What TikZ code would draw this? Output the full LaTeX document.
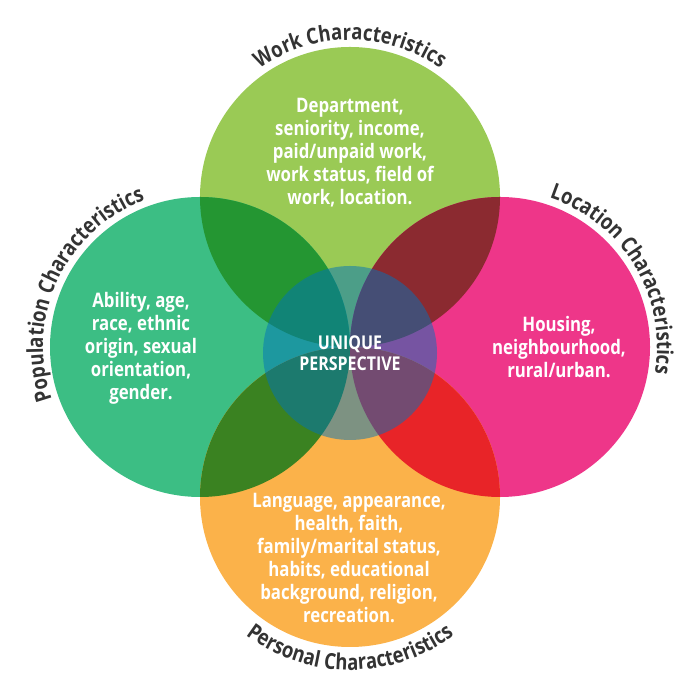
\documentclass[tikz,border=0pt]{standalone}
\usepackage{fontspec}
\setmainfont{Open Sans}[FakeStretch=0.84]
\usetikzlibrary{decorations.text}

% circle fills
\definecolor{workc}{HTML}{9ACA55}
\definecolor{popc}{HTML}{3CBE84}
\definecolor{locc}{HTML}{EE3689}
\definecolor{perc}{HTML}{FBB24A}
% pairwise overlaps
\definecolor{workpop}{HTML}{249632}
\definecolor{workloc}{HTML}{8B2A30}
\definecolor{popper}{HTML}{3A8221}
\definecolor{locper}{HTML}{E82428}
% centre overlay and captions
\definecolor{coreblue}{HTML}{0073BB}
\definecolor{labelgray}{HTML}{333333}

\newcommand\arcfont{\bfseries\fontsize{22}{22}\selectfont}

\tikzset{
  zone/.style={circle, minimum size=300pt, inner sep=0pt, draw=none},
  body/.style={text=white, align=center, font=\bfseries\fontsize{20}{23}\selectfont},
  arclabel/.style={decorate, decoration={text along path, text align=center,
      text color=labelgray, text={|\arcfont|#1}}},
}

\begin{document}
\begin{tikzpicture}[x=1pt, y=1pt]
  \useasboundingbox (0,0) rectangle (700,700);

  % the four characteristic circles
  \node[zone, fill=workc] (work) at (350,503) {};
  \node[zone, fill=popc]  (pop)  at (200,353) {};
  \node[zone, fill=locc]  (loc)  at (500,353) {};
  \node[zone, fill=perc]  (per)  at (350,203) {};

  % overlaps of neighbouring circles
  \begin{scope}
    \clip (work.center) circle[radius=150];
    \fill[workpop] (pop.center) circle[radius=150];
    \fill[workloc] (loc.center) circle[radius=150];
  \end{scope}
  \begin{scope}
    \clip (per.center) circle[radius=150];
    \fill[popper] (pop.center) circle[radius=150];
    \fill[locper] (loc.center) circle[radius=150];
  \end{scope}

  % translucent centre
  \node[zone, minimum size=174pt, fill=coreblue, fill opacity=0.5, text opacity=1,
        text=white, align=center, font=\bfseries\fontsize{19}{21}\selectfont]
        (core) at (350,347) {UNIQUE\\PERSPECTIVE};

  % descriptions
  \node[body] (worktext) at (350,547) {Department,\\seniority, income,\\paid/unpaid work,\\work status, field of\\work, location.};
  \node[body] (poptext)  at (141,352) {Ability, age,\\race, ethnic\\origin, sexual\\orientation,\\gender.};
  \node[body] (loctext)  at (559,353) {Housing,\\neighbourhood,\\rural/urban.};
  \node[body] (pertext)  at (349,142) {Language, appearance,\\health, faith,\\family/marital status,\\habits, educational\\background, religion,\\recreation.};

  % curved captions
  \path[arclabel={Work Characteristics}]
    (work.center) ++(170:157) arc[start angle=170, end angle=10, radius=157];
  \path[arclabel={Population Characteristics}]
    (pop.center) ++(235:157) arc[start angle=235, end angle=75, radius=157];
  \path[arclabel={Location Characteristics}]
    (loc.center) ++(111:157) arc[start angle=111, end angle=-49, radius=157];
  \path[arclabel={Personal Characteristics}]
    (per.center) ++(190:173) arc[start angle=190, end angle=350, radius=173];
\end{tikzpicture}
\end{document}
